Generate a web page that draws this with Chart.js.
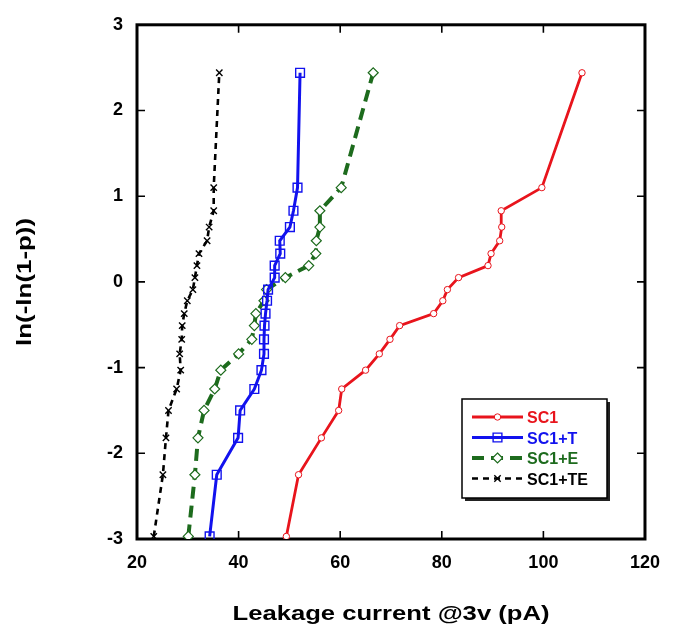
<!DOCTYPE html>
<html>
<head>
<meta charset="utf-8">
<script src="https://cdn.jsdelivr.net/npm/chart.js@4.4.1/dist/chart.umd.min.js"></script>
<style>
  html, body { margin: 0; padding: 0; background: #fff; }
  #wrap { width: 673px; height: 628px; }
</style>
</head>
<body>
<div id="wrap"><canvas id="c" width="673" height="628"></canvas></div>
<script>
// Weibull plotting positions, ln(-ln(1-p)), shared by every sample set
const plotPositions = [-2.97, -2.25, -1.82, -1.50, -1.25, -1.03, -0.84, -0.67, -0.51, -0.37,
                       -0.22, -0.09, 0.05, 0.19, 0.33, 0.48, 0.64, 0.83, 1.10, 2.44];

// Leakage current at 3 V (pA), sorted, one array per split
const sc1   = [49.4, 51.8, 56.3, 59.7, 60.3, 65.0, 67.7, 69.8, 71.7, 78.4,
               80.2, 81.1, 83.3, 89.1, 89.7, 91.4, 91.8, 91.7, 99.7, 107.6];
const sc1T  = [34.3, 35.7, 39.9, 40.3, 43.1, 44.5, 45.0, 45.0, 45.1, 45.3,
               45.6, 45.8, 47.1, 47.1, 48.2, 48.1, 50.1, 50.8, 51.6, 52.1];
const sc1E  = [30.1, 31.4, 32.0, 33.2, 35.3, 36.5, 40.0, 42.6, 43.1, 43.4,
               45.0, 45.5, 49.2, 53.8, 55.2, 55.3, 56.0, 56.0, 60.2, 66.5];
const sc1TE = [23.3, 25.1, 25.7, 26.2, 27.8, 28.6, 28.4, 28.8, 28.9, 29.3,
               29.9, 31.0, 31.4, 31.8, 32.2, 33.8, 34.2, 35.1, 35.1, 36.2];

const seriesNames = ['SC1', 'SC1+T', 'SC1+E', 'SC1+TE'];
const xTicks = [20, 40, 60, 80, 100, 120];
const yTicks = [-3, -2, -1, 0, 1, 2, 3];
const xTitle = 'Leakage current @3v (pA)';
const yTitle = 'ln(-ln(1-p))';

const FONT = '"Liberation Sans", Arial, sans-serif';
const RED = '#e8141c', BLUE = '#1212ee', GREEN = '#1d6b1d', BLACK = '#000000';

function pairs(xs) { return xs.map((x, i) => ({ x: x, y: plotPositions[i] })); }

const datasets = [
  { label: seriesNames[0], data: pairs(sc1), borderColor: RED, borderWidth: 2.8,
    pointStyle: 'circle', pointRadius: 3.2, pointBorderColor: RED, pointBackgroundColor: '#fff', pointBorderWidth: 1 },
  { label: seriesNames[1], data: pairs(sc1T), borderColor: BLUE, borderWidth: 3,
    pointStyle: 'rect', pointRadius: 6.2, pointBorderColor: BLUE, pointBackgroundColor: 'rgba(255,255,255,0)', pointBorderWidth: 1.4 },
  { label: seriesNames[2], data: pairs(sc1E), borderColor: GREEN, borderWidth: 4, borderDash: [12, 7],
    pointStyle: 'rectRot', pointRadius: 5, pointBorderColor: GREEN, pointBackgroundColor: '#fff', pointBorderWidth: 1.2 },
  { label: seriesNames[3], data: pairs(sc1TE), borderColor: BLACK, borderWidth: 2.6, borderDash: [6, 5],
    pointStyle: 'crossRot', pointRadius: 4.5, pointBorderColor: BLACK, pointBorderWidth: 1.4 }
];
datasets.forEach(d => { d.showLine = true; d.fill = false; d.tension = 0; d.pointHoverRadius = d.pointRadius; });

// Draws a stretched text so that it spans a given width
function stretchedText(ctx, text, font, width) {
  ctx.font = font;
  const w = ctx.measureText(text).width;
  ctx.scale(width / w, 1);
  ctx.fillText(text, 0, 0);
}

function marker(ctx, style, x, y, r) {
  ctx.beginPath();
  if (style === 'circle') {
    ctx.arc(x, y, r, 0, Math.PI * 2);
    ctx.fill(); ctx.stroke();
  } else if (style === 'rect') {
    const s = r * Math.SQRT1_2;
    ctx.rect(x - s, y - s, 2 * s, 2 * s);
    ctx.fill(); ctx.stroke();
  } else if (style === 'rectRot') {
    ctx.moveTo(x, y - r); ctx.lineTo(x + r, y); ctx.lineTo(x, y + r); ctx.lineTo(x - r, y); ctx.closePath();
    ctx.fill(); ctx.stroke();
  } else if (style === 'crossRot') {
    const s = r * Math.SQRT1_2;
    ctx.moveTo(x - s, y - s); ctx.lineTo(x + s, y + s);
    ctx.moveTo(x + s, y - s); ctx.lineTo(x - s, y + s);
    ctx.stroke();
  }
}

const framePlugin = {
  id: 'frame',
  beforeDatasetsDraw(chart) {
    const { ctx, chartArea: a, scales } = chart;
    ctx.save();
    ctx.strokeStyle = '#000';
    ctx.lineWidth = 1.6;
    ctx.beginPath();
    xTicks.forEach(v => {
      const px = scales.x.getPixelForValue(v);
      if (v === xTicks[0] || v === xTicks[xTicks.length - 1]) return;
      ctx.moveTo(px, a.bottom); ctx.lineTo(px, a.bottom - 8);
      ctx.moveTo(px, a.top); ctx.lineTo(px, a.top + 8);
    });
    yTicks.forEach(v => {
      const py = scales.y.getPixelForValue(v);
      if (v === yTicks[0] || v === yTicks[yTicks.length - 1]) return;
      ctx.moveTo(a.left, py); ctx.lineTo(a.left + 8, py);
      ctx.moveTo(a.right, py); ctx.lineTo(a.right - 8, py);
    });
    ctx.stroke();
    ctx.lineWidth = 3;
    ctx.strokeRect(a.left, a.top, a.right - a.left, a.bottom - a.top);
    ctx.restore();
  },
  afterDraw(chart) {
    const { ctx, chartArea: a } = chart;
    ctx.save();
    ctx.fillStyle = '#000';
    ctx.textAlign = 'center';
    ctx.textBaseline = 'alphabetic';

    // axis titles
    ctx.save();
    ctx.translate((a.left + a.right) / 2, 620);
    stretchedText(ctx, xTitle, 'bold 21px ' + FONT, 317);
    ctx.restore();

    ctx.save();
    ctx.translate(31, (a.top + a.bottom) / 2);
    ctx.rotate(-Math.PI / 2);
    stretchedText(ctx, yTitle, 'bold 20px ' + FONT, 128);
    ctx.restore();

    // legend box with drop shadow
    const bx = 462, by = 399, bw = 145, bh = 99;
    ctx.fillStyle = '#222';
    ctx.fillRect(bx + 3, by + 3, bw, bh);
    ctx.fillStyle = '#fff';
    ctx.fillRect(bx, by, bw, bh);
    ctx.strokeStyle = '#000';
    ctx.lineWidth = 1.5;
    ctx.strokeRect(bx, by, bw, bh);

    const rows = [417, 437.5, 458, 478.5];
    chart.data.datasets.forEach((d, i) => {
      const y = rows[i];
      ctx.save();
      ctx.strokeStyle = d.borderColor;
      ctx.lineWidth = d.borderWidth;
      ctx.setLineDash(d.borderDash || []);
      ctx.beginPath();
      ctx.moveTo(472, y); ctx.lineTo(523, y);
      ctx.stroke();
      ctx.setLineDash([]);
      ctx.lineWidth = d.pointBorderWidth;
      ctx.strokeStyle = d.pointBorderColor;
      ctx.fillStyle = d.pointBackgroundColor || '#fff';
      marker(ctx, d.pointStyle, 497.5, y, d.pointStyle === 'rect' ? 6.2 : d.pointRadius);
      ctx.restore();

      ctx.fillStyle = d.borderColor;
      ctx.textAlign = 'left';
      ctx.font = 'bold 16px ' + FONT;
      ctx.fillText(d.label, 527, y + 6);
    });
    ctx.restore();
  }
};

new Chart(document.getElementById('c'), {
  type: 'scatter',
  data: { datasets: datasets },
  options: {
    responsive: false,
    animation: false,
    devicePixelRatio: 1,
    layout: { padding: { top: 23, right: 18, left: 0, bottom: 0 } },
    plugins: { legend: { display: false }, tooltip: { enabled: false }, title: { display: false } },
    scales: {
      x: {
        type: 'linear', min: xTicks[0], max: xTicks[xTicks.length - 1],
        afterBuildTicks: s => { s.ticks = xTicks.map(v => ({ value: v })); },
        ticks: { color: '#000', font: { family: FONT, size: 18, weight: 'bold' }, padding: 13, maxRotation: 0 },
        grid: { display: false, drawTicks: false },
        border: { display: false },
        afterFit: s => { s.height = 89; }
      },
      y: {
        type: 'linear', min: yTicks[0], max: yTicks[yTicks.length - 1],
        afterBuildTicks: s => { s.ticks = yTicks.map(v => ({ value: v })); },
        ticks: { color: '#000', font: { family: FONT, size: 18, weight: 'bold' }, padding: 14 },
        grid: { display: false, drawTicks: false },
        border: { display: false },
        afterFit: s => { s.width = 137; }
      }
    }
  },
  plugins: [framePlugin]
});
</script>
</body>
</html>
